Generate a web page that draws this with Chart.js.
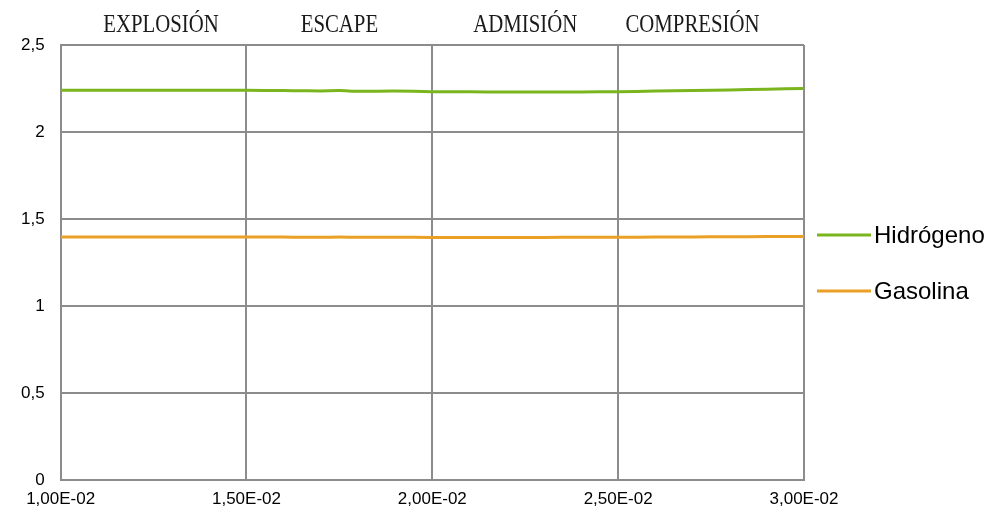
<!DOCTYPE html>
<html lang="es">
<head>
<meta charset="UTF-8">
<title>Hidrógeno vs Gasolina</title>
<script src="https://cdn.jsdelivr.net/npm/chart.js"></script>
<style>
  body { margin: 0; background: #fff; }
  #wrap { width: 998px; height: 514px; position: relative; }
</style>
</head>
<body>
<div id="wrap"><canvas id="myChart"></canvas></div>
<script>
  // datos
  const tiempo = [0.010, 0.0125, 0.015, 0.016, 0.0165, 0.017, 0.0175, 0.018, 0.019, 0.020, 0.021, 0.022, 0.023, 0.024, 0.025, 0.026, 0.027, 0.028, 0.029, 0.030];
  const hidrogeno = [2.240, 2.240, 2.240, 2.238, 2.237, 2.236, 2.238, 2.234, 2.235, 2.232, 2.231, 2.230, 2.230, 2.230, 2.232, 2.235, 2.238, 2.242, 2.246, 2.250];
  const gasolina = [1.397, 1.397, 1.397, 1.396, 1.395, 1.395, 1.396, 1.395, 1.395, 1.394, 1.394, 1.394, 1.394, 1.395, 1.395, 1.396, 1.397, 1.398, 1.399, 1.400];
  const fases = ['EXPLOSIÓN', 'ESCAPE', 'ADMISIÓN', 'COMPRESIÓN'];
  const fasesX = [0.0127, 0.0175, 0.0225, 0.0270]; // centro de cada etiqueta, en unidades del eje x
  const yTicks = [0, 0.5, 1, 1.5, 2, 2.5];
  const xTicks = [0.010, 0.015, 0.020, 0.025, 0.030];

  function fmtExp(v) {
    const [m, e] = v.toExponential(2).split('e');
    const n = parseInt(e, 10);
    const ee = (n < 0 ? '-' : '+') + String(Math.abs(n)).padStart(2, '0');
    return m.replace('.', ',') + 'E' + ee;
  }

  // etiquetas de las fases encima del área
  const fasesPlugin = {
    id: 'fases',
    afterDraw(chart) {
      const ctx = chart.ctx;
      const x = chart.scales.x;
      ctx.save();
      ctx.font = '26px "Liberation Serif"';
      ctx.fillStyle = '#1a1a1a';
      ctx.textAlign = 'center';
      ctx.textBaseline = 'middle';
      fases.forEach((f, i) => {
        ctx.save();
        ctx.translate(x.getPixelForValue(fasesX[i]), 25);
        ctx.scale(0.8, 1);
        ctx.fillText(f, 0, 0);
        ctx.restore();
      });
      ctx.restore();
    }
  };

  const leyendaPlugin = {
    id: 'leyenda',
    afterDraw(chart) {
      const ctx = chart.ctx;
      const area = chart.chartArea;
      ctx.save();
      ctx.font = '24px "Liberation Sans"';
      ctx.textBaseline = 'middle';
      chart.data.datasets.forEach((ds, i) => {
        const y = 235 + i * 56;
        ctx.strokeStyle = ds.borderColor;
        ctx.lineWidth = 3;
        ctx.beginPath();
        ctx.moveTo(area.right + 13, y);
        ctx.lineTo(area.right + 67, y);
        ctx.stroke();
        ctx.fillStyle = '#000';
        ctx.fillText(ds.label, area.right + 70, y + 1);
      });
      ctx.restore();
    }
  };

  const ctx = document.getElementById('myChart').getContext('2d');
  new Chart(ctx, {
    type: 'line',
    data: {
      datasets: [
        {
          label: 'Hidrógeno',
          data: tiempo.map((t, i) => ({ x: t, y: hidrogeno[i] })),
          borderColor: '#7ab51d',
          borderWidth: 3,
          pointRadius: 0,
          tension: 0.3
        },
        {
          label: 'Gasolina',
          data: tiempo.map((t, i) => ({ x: t, y: gasolina[i] })),
          borderColor: '#e9a024',
          borderWidth: 3,
          pointRadius: 0,
          tension: 0.3
        }
      ]
    },
    options: {
      responsive: true,
      maintainAspectRatio: false,
      animation: false,
      layout: { padding: { top: 45, right: 194, bottom: 0, left: 5 } },
      plugins: { legend: { display: false }, tooltip: { enabled: false } },
      scales: {
        x: {
          type: 'linear',
          min: 0.010,
          max: 0.030,
          afterBuildTicks: s => { s.ticks = xTicks.map(v => ({ value: v })); },
          afterFit: s => { s.height = 34; },
          ticks: {
            callback: v => fmtExp(v),
            font: { family: 'Liberation Sans', size: 17 },
            color: '#000',
            maxRotation: 0,
            padding: 9
          },
          grid: { color: '#8c8c8c', lineWidth: 2, drawTicks: false },
          border: { color: '#8c8c8c', width: 2 }
        },
        y: {
          min: 0,
          max: 2.5,
          afterBuildTicks: s => { s.ticks = yTicks.map(v => ({ value: v })); },
          ticks: {
            callback: v => String(v).replace('.', ','),
            font: { family: 'Liberation Sans', size: 17 },
            color: '#000',
            padding: 16
          },
          grid: { color: '#8c8c8c', lineWidth: 2, drawTicks: false },
          border: { color: '#8c8c8c', width: 2 }
        }
      }
    },
    plugins: [fasesPlugin, leyendaPlugin]
  });
</script>
</body>
</html>
